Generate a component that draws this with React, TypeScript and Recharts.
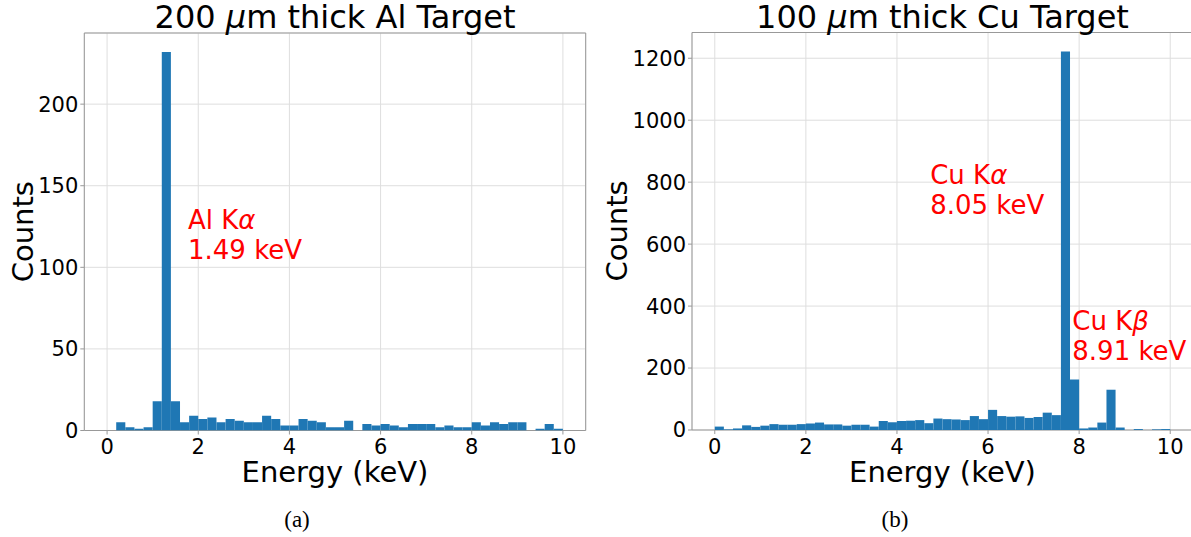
import React from "react";
import {
  ComposedChart,
  Bar,
  XAxis,
  YAxis,
  CartesianGrid,
  ReferenceArea,
  ReferenceDot,
} from "recharts";

// histogram bin centres (keV), 0.2 keV wide bins
const BIN_CENTERS = [
  0.1, 0.3, 0.5, 0.7, 0.9, 1.1, 1.3, 1.5, 1.7, 1.9,
  2.1, 2.3, 2.5, 2.7, 2.9, 3.1, 3.3, 3.5, 3.7, 3.9,
  4.1, 4.3, 4.5, 4.7, 4.9, 5.1, 5.3, 5.5, 5.7, 5.9,
  6.1, 6.3, 6.5, 6.7, 6.9, 7.1, 7.3, 7.5, 7.7, 7.9,
  8.1, 8.3, 8.5, 8.7, 8.9, 9.1, 9.3, 9.5, 9.7, 9.9,
];

const AL_COUNTS = [
  0, 5, 2, 1, 2, 18, 232, 18, 5, 9,
  7, 8, 5, 7, 6, 5, 5, 9, 7, 3,
  3, 7, 6, 5, 2, 2, 6, 0, 4, 3,
  4, 3, 2, 4, 4, 4, 2, 3, 2, 2,
  5, 3, 5, 4, 5, 5, 0, 1, 4, 1,
];

const CU_COUNTS = [
  11, 2, 5, 15, 10, 14, 19, 17, 17, 19,
  21, 24, 18, 18, 14, 17, 17, 11, 29, 25,
  29, 30, 32, 22, 37, 35, 34, 32, 45, 35,
  65, 45, 43, 44, 39, 42, 56, 48, 1222, 163,
  5, 8, 24, 130, 8, 0, 3, 0, 2, 3,
];

const X_TICKS = [0, 2, 4, 6, 8, 10];
const AL_Y_TICKS = [0, 50, 100, 150, 200];
const CU_Y_TICKS = [0, 200, 400, 600, 800, 1000, 1200];

const AL_PEAKS = [{ x: 1.775, y: 105, name: "Al K", greek: "α", energy: "1.49 keV" }];
const CU_PEAKS = [
  { x: 4.73, y: 697, name: "Cu K", greek: "α", energy: "8.05 keV" },
  { x: 7.85, y: 226, name: "Cu K", greek: "β", energy: "8.91 keV" },
];

const FONT = "'DejaVu Sans', sans-serif";
const BLUE = "#1f77b4";
const SPINE = "#999999";
const GRID = "#dedede";

type Peak = { x: number; y: number; name: string; greek: string; energy: string };

function PeakText({ cx, cy, peak }: { cx: number; cy: number; peak: Peak }) {
  return (
    <text fill="#ff0000" fontSize={26} fontFamily={FONT}>
      <tspan x={cx} y={cy - 30}>
        {peak.name}
        <tspan fontStyle="italic">{peak.greek}</tspan>
      </tspan>
      <tspan x={cx} y={cy}>
        {peak.energy}
      </tspan>
    </text>
  );
}

function Panel({
  counts,
  yTicks,
  yMax,
  peaks,
  plot,
}: {
  counts: number[];
  yTicks: number[];
  yMax: number;
  peaks: Peak[];
  plot: { left: number; top: number; right: number; bottom: number };
}) {
  const width = 600;
  const height = 537;
  const data = BIN_CENTERS.map((x, i) => ({ x, counts: counts[i] }));
  const plotW = plot.right - plot.left;
  const barSize = (plotW * 0.2) / 11 - 0.01;
  const tickStyle = { fontSize: 21, fill: "#000", fontFamily: FONT };

  return (
    <ComposedChart
      width={width}
      height={height}
      data={data}
      margin={{
        top: plot.top,
        left: plot.left - 60,
        right: width - plot.right,
        bottom: height - plot.bottom - 30,
      }}
    >
      <CartesianGrid stroke={GRID} strokeWidth={1} />
      <XAxis
        dataKey="x"
        type="number"
        domain={[-0.5, 10.5]}
        allowDataOverflow
        ticks={X_TICKS}
        interval={0}
        height={30}
        axisLine={false}
        tickLine={{ stroke: SPINE }}
        tickSize={4}
        tickMargin={5}
        tick={tickStyle}
      />
      <YAxis
        type="number"
        domain={[0, yMax]}
        allowDataOverflow
        ticks={yTicks}
        interval={0}
        width={60}
        axisLine={false}
        tickLine={{ stroke: SPINE }}
        tickSize={4}
        tickMargin={2}
        tick={tickStyle}
      />
      <Bar dataKey="counts" fill={BLUE} barSize={barSize} isAnimationActive={false} />
      <ReferenceArea
        x1={-0.5}
        x2={10.5}
        y1={0}
        y2={yMax}
        fill="none"
        fillOpacity={0}
        stroke={SPINE}
        strokeWidth={1}
        ifOverflow="visible"
      />
      {peaks.map((p, i) => (
        <ReferenceDot
          key={i}
          x={p.x}
          y={p.y}
          r={0}
          ifOverflow="visible"
          shape={(s: any) => <PeakText cx={s.cx} cy={s.cy} peak={p} />}
        />
      ))}
    </ComposedChart>
  );
}

export default function App() {
  return (
    <div
      style={{
        position: "fixed",
        left: 0,
        top: 0,
        width: 1191,
        height: 537,
        overflow: "hidden",
        background: "#fff",
      }}
    >
      <div style={{ position: "absolute", left: 0, top: 0 }}>
        <Panel
          counts={AL_COUNTS}
          yTicks={AL_Y_TICKS}
          yMax={243.6}
          peaks={AL_PEAKS}
          plot={{ left: 84.3, top: 33, right: 585.7, bottom: 430.5 }}
        />
      </div>
      <div style={{ position: "absolute", left: 600, top: 0 }}>
        <Panel
          counts={CU_COUNTS}
          yTicks={CU_Y_TICKS}
          yMax={1283.1}
          peaks={CU_PEAKS}
          plot={{ left: 92, top: 32.5, right: 593, bottom: 430 }}
        />
      </div>
      <svg
        width={1191}
        height={537}
        style={{ position: "absolute", left: 0, top: 0, pointerEvents: "none" }}
      >
        <g fontFamily={FONT} fill="#000">
          <text x={335} y={28} fontSize={32} textAnchor="middle">
            200 <tspan fontStyle="italic">μ</tspan>m thick Al Target
          </text>
          <text x={942.5} y={28} fontSize={32} textAnchor="middle">
            100 <tspan fontStyle="italic">μ</tspan>m thick Cu Target
          </text>
          <text x={335} y={482} fontSize={29} textAnchor="middle">
            Energy (keV)
          </text>
          <text x={942.5} y={482} fontSize={29} textAnchor="middle">
            Energy (keV)
          </text>
          <text
            transform="translate(32.5,231.7) rotate(-90)"
            fontSize={29}
            textAnchor="middle"
          >
            Counts
          </text>
          <text
            transform="translate(626.6,231) rotate(-90)"
            fontSize={29}
            textAnchor="middle"
          >
            Counts
          </text>
        </g>
        <g fontFamily="'Liberation Serif', 'DejaVu Serif', serif" fill="#000" fontSize={23}>
          <text x={297} y={527} textAnchor="middle">
            (a)
          </text>
          <text x={895} y={527} textAnchor="middle">
            (b)
          </text>
        </g>
      </svg>
    </div>
  );
}
